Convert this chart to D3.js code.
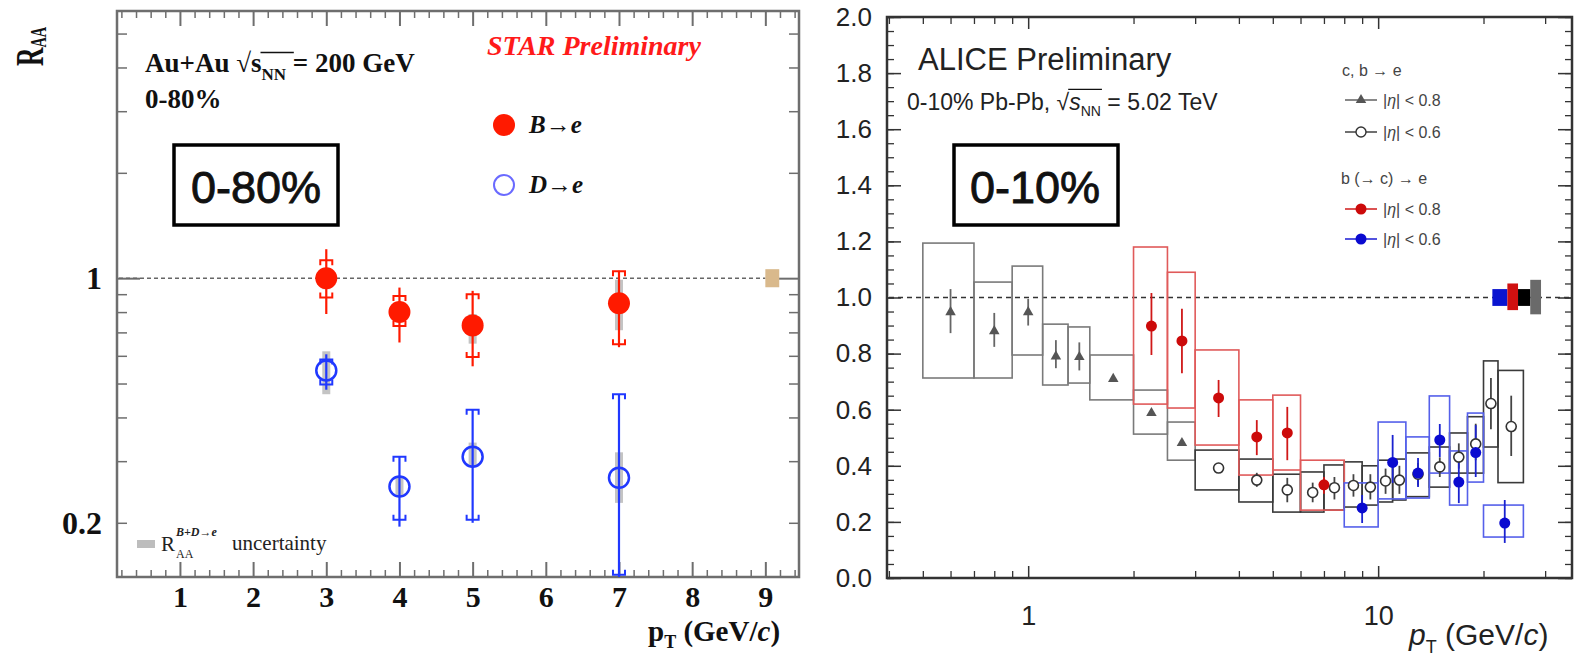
<!DOCTYPE html>
<html lang="en">
<head>
<meta charset="UTF-8">
<title>Heavy-flavour electron RAA: STAR vs ALICE</title>
<script src="https://d3js.org/d3.v7.min.js"></script>
<style>
  body { margin: 0; background: #fff; }
  svg { display: block; }
  .star text { font-family: "Liberation Serif", "Times New Roman", serif; }
  .alice text { font-family: "Liberation Sans", Arial, Helvetica, sans-serif; }
</style>
</head>
<body>
<svg id="chart" width="1576" height="659"></svg>
<script>
// ---------- STAR panel data (Au+Au 200 GeV, 0-80%) ----------
const starMajorX = [1, 2, 3, 4, 5, 6, 7, 8, 9];
const starMinorY = [0.2, 0.3, 0.4, 0.5, 0.6, 0.7, 0.8, 0.9, 2, 3, 4, 5];
// B -> e : value, stat error range, syst bracket range, grey combined band
const starB = [
  {pt: 3, v: 1.00,  stat: [0.79, 1.21],  sys: [0.88, 1.125], band: [0.93, 1.07]},
  {pt: 4, v: 0.80,  stat: [0.655, 0.94], sys: [0.73, 0.89],  band: [0.76, 0.85]},
  {pt: 5, v: 0.733, stat: [0.56, 0.92],  sys: [0.595, 0.90], band: [0.65, 0.79]},
  {pt: 7, v: 0.848, stat: [0.635, 1.05], sys: [0.647, 1.047], band: [0.71, 0.99]}
];
// D -> e
const starD = [
  {pt: 3, v: 0.545, stat: [0.48, 0.606], sys: [0.497, 0.586], band: [0.466, 0.618]},
  {pt: 4, v: 0.254, stat: [0.195, 0.31], sys: [0.204, 0.309], band: [0.24, 0.27]},
  {pt: 5, v: 0.309, stat: [0.20, 0.421], sys: [0.204, 0.421], band: [0.29, 0.339]},
  {pt: 7, v: 0.269, stat: [0.14, 0.466], sys: [0.142, 0.466], band: [0.228, 0.318]}
];
const starNorm = {x0: 9.0, x1: 9.19, lo: 0.942, hi: 1.061};

// ---------- ALICE panel data (Pb-Pb 5.02 TeV, 0-10%) ----------
const aliceMajorX = [1, 10];
const aliceMinorX = [0.4, 0.5, 0.6, 0.7, 0.8, 0.9, 2, 3, 4, 5, 6, 7, 8, 9, 20, 30];
const aliceMajorY = [0, 0.2, 0.4, 0.6, 0.8, 1.0, 1.2, 1.4, 1.6, 1.8, 2.0];
const aliceMinorY = d3.range(0, 2.0001, 0.05);
// c,b -> e |eta|<0.8 (triangles)
const aliceTri = [
  {pt: 0.6,  x0: 0.5, x1: 0.7, v: 0.948, err: [0.873, 1.03],  box: [0.713, 1.194]},
  {pt: 0.8,  x0: 0.7, x1: 0.9, v: 0.88,  err: [0.824, 0.945], box: [0.713, 1.055]},
  {pt: 1.0,  x0: 0.9, x1: 1.1, v: 0.948, err: [0.90, 0.995],  box: [0.795, 1.112]},
  {pt: 1.2,  x0: 1.1, x1: 1.3, v: 0.79,  err: [0.748, 0.848], box: [0.688, 0.905]},
  {pt: 1.4,  x0: 1.3, x1: 1.5, v: 0.788, err: [0.74, 0.84],   box: [0.695, 0.895]},
  {pt: 1.75, x0: 1.5, x1: 2.0, v: 0.71,  err: [0.70, 0.72],   box: [0.635, 0.795]},
  {pt: 2.25, x0: 2.0, x1: 2.5, v: 0.588, err: [0.58, 0.596],  box: [0.513, 0.67]},
  {pt: 2.75, x0: 2.5, x1: 3.0, v: 0.481, err: [0.473, 0.489], box: [0.42, 0.556]}
];
// c,b -> e |eta|<0.6 (open circles)
const aliceCirc = [
  {pt: 3.5,  x0: 3,  x1: 4,  v: 0.392, err: [0.375, 0.41],  box: [0.314, 0.456]},
  {pt: 4.5,  x0: 4,  x1: 5,  v: 0.349, err: [0.325, 0.375], box: [0.271, 0.424]},
  {pt: 5.5,  x0: 5,  x1: 6,  v: 0.314, err: [0.27, 0.357],  box: [0.235, 0.37]},
  {pt: 6.5,  x0: 6,  x1: 7,  v: 0.305, err: [0.27, 0.34],   box: [0.235, 0.378]},
  {pt: 7.5,  x0: 7,  x1: 8,  v: 0.322, err: [0.28, 0.36],   box: [0.242, 0.403]},
  {pt: 8.5,  x0: 8,  x1: 9,  v: 0.33,  err: [0.29, 0.37],   box: [0.253, 0.414]},
  {pt: 9.5,  x0: 9,  x1: 10, v: 0.324, err: [0.28, 0.37],   box: [0.26, 0.40]},
  {pt: 10.5, x0: 10, x1: 11, v: 0.346, err: [0.30, 0.39],   box: [0.271, 0.42]},
  {pt: 11.5, x0: 11, x1: 12, v: 0.349, err: [0.30, 0.40],   box: [0.278, 0.424]},
  {pt: 13,   x0: 12, x1: 14, v: 0.37,  err: [0.33, 0.41],   box: [0.29, 0.446]},
  {pt: 15,   x0: 14, x1: 16, v: 0.396, err: [0.36, 0.43],   box: [0.324, 0.467]},
  {pt: 17,   x0: 16, x1: 18, v: 0.431, err: [0.39, 0.48],   box: [0.374, 0.517]},
  {pt: 19,   x0: 18, x1: 20, v: 0.478, err: [0.42, 0.55],   box: [0.374, 0.575]},
  {pt: 21,   x0: 20, x1: 22, v: 0.622, err: [0.53, 0.713],  box: [0.467, 0.774]},
  {pt: 24,   x0: 22, x1: 26, v: 0.54,  err: [0.435, 0.65],  box: [0.34, 0.74]}
];
// b (-> c) -> e |eta|<0.8 (red)
const aliceRed = [
  {pt: 2.25, x0: 2.0, x1: 2.5, v: 0.898, err: [0.795, 1.016], box: [0.62, 1.18]},
  {pt: 2.75, x0: 2.5, x1: 3.0, v: 0.845, err: [0.73, 0.96],   box: [0.606, 1.09]},
  {pt: 3.5,  x0: 3,   x1: 4,   v: 0.642, err: [0.574, 0.706], box: [0.474, 0.813]},
  {pt: 4.5,  x0: 4,   x1: 5,   v: 0.503, err: [0.438, 0.563], box: [0.367, 0.635]},
  {pt: 5.5,  x0: 5,   x1: 6,   v: 0.517, err: [0.42, 0.61],   box: [0.385, 0.652]},
  {pt: 7,    x0: 6,   x1: 8,   v: 0.332, err: [0.30, 0.36],   box: [0.242, 0.42]}
];
// b (-> c) -> e |eta|<0.6 (blue)
const aliceBlue = [
  {pt: 9,  x0: 8,  x1: 10, v: 0.25,  err: [0.196, 0.296], box: [0.182, 0.339]},
  {pt: 11, x0: 10, x1: 12, v: 0.412, err: [0.339, 0.51],  box: [0.282, 0.556]},
  {pt: 13, x0: 12, x1: 14, v: 0.374, err: [0.324, 0.428], box: [0.285, 0.503]},
  {pt: 15, x0: 14, x1: 16, v: 0.492, err: [0.431, 0.549], box: [0.374, 0.649]},
  {pt: 17, x0: 16, x1: 18, v: 0.342, err: [0.267, 0.431], box: [0.26, 0.453]},
  {pt: 19, x0: 18, x1: 20, v: 0.447, err: [0.36, 0.545],  box: [0.342, 0.588]},
  {pt: 23, x0: 20, x1: 26, v: 0.196, err: [0.125, 0.278], box: [0.146, 0.26]}
];
// normalisation uncertainty boxes at unity
const aliceNorm = [
  {x0: 21.2, x1: 23.4, lo: 0.97,  hi: 1.03,  color: "#0a14d0"},
  {x0: 23.4, x1: 25.1, lo: 0.955, hi: 1.05,  color: "#d01010"},
  {x0: 25.1, x1: 27.2, lo: 0.97,  hi: 1.03,  color: "#000000"},
  {x0: 27.2, x1: 29.2, lo: 0.94,  hi: 1.063, color: "#6a6a6a"}
];

const svg = d3.select("#chart");

// helper: text with sqrt(s_NN) and an overline drawn over s_NN
function rootSnn(g, x, y, before, after, size, italicS, barRise) {
  const t = g.append("text").attr("x", x).attr("y", y).style("font-size", size + "px");
  t.append("tspan").text(before + "\u221A");
  t.append("tspan").text("s").style("font-style", italicS ? "italic" : null);
  t.append("tspan").text("NN").style("font-size", Math.round(size * 0.62) + "px").attr("dy", size * 0.28);
  t.append("tspan").text(after).attr("dy", -size * 0.28);
  const n = t.node();
  const i = before.length;
  const rad = n.getExtentOfChar(i);
  const last = n.getExtentOfChar(i + 3);
  g.append("line")
    .attr("x1", rad.x + rad.width - 1).attr("x2", last.x + last.width + 1)
    .attr("y1", y - size * barRise).attr("y2", y - size * barRise)
    .attr("stroke", "#111").attr("stroke-width", Math.max(1.2, size / 18));
  return t;
}

function styleTicks(g, color, width) {
  g.select(".domain").remove();
  g.selectAll(".tick line").attr("stroke", color).attr("stroke-width", width);
}

// ==================== STAR panel ====================
function drawStar() {
  const g = svg.append("g").attr("class", "star");
  const x = d3.scaleLinear().domain([0.14, 9.46]).range([117, 799]);
  const y = d3.scaleLog().domain([0.14, 5.8]).range([577, 11]);
  const axisColor = "#6e6e6e";
  const minorX = d3.range(0.2, 9.41, 0.2).filter(d => Math.abs(d - Math.round(d)) > 0.01);

  // x axes (bottom with labels, top mirrored)
  const bx = g.append("g").attr("transform", "translate(0,577)")
    .call(d3.axisBottom(x).tickValues(starMajorX).tickSize(-15).tickPadding(9).tickFormat(d3.format("d")));
  styleTicks(bx, axisColor, 2);
  bx.selectAll("text").style("font-size", "30px").style("font-weight", "bold").attr("fill", "#111");
  styleTicks(g.append("g").attr("transform", "translate(0,577)")
    .call(d3.axisBottom(x).tickValues(minorX).tickSize(-7).tickFormat("")), axisColor, 1.5);
  styleTicks(g.append("g").attr("transform", "translate(0,11)")
    .call(d3.axisTop(x).tickValues(starMajorX).tickSize(-15).tickFormat("")), axisColor, 2);
  styleTicks(g.append("g").attr("transform", "translate(0,11)")
    .call(d3.axisTop(x).tickValues(minorX).tickSize(-7).tickFormat("")), axisColor, 1.5);

  // y axes (log)
  const ly = g.append("g").attr("transform", "translate(117,0)")
    .call(d3.axisLeft(y).tickValues([1]).tickSize(-23).tickPadding(15).tickFormat(d3.format("d")));
  styleTicks(ly, axisColor, 2);
  const lyMinor = g.append("g").attr("transform", "translate(117,0)")
    .call(d3.axisLeft(y).tickValues(starMinorY).tickSize(-10).tickPadding(15)
      .tickFormat(d => d === 0.2 ? "0.2" : ""));
  styleTicks(lyMinor, axisColor, 1.5);
  ly.selectAll("text").style("font-size", "32px").style("font-weight", "bold").attr("fill", "#111");
  lyMinor.selectAll("text").style("font-size", "32px").style("font-weight", "bold").attr("fill", "#111");
  styleTicks(g.append("g").attr("transform", "translate(799,0)")
    .call(d3.axisRight(y).tickValues([1]).tickSize(-23).tickFormat("")), axisColor, 2);
  styleTicks(g.append("g").attr("transform", "translate(799,0)")
    .call(d3.axisRight(y).tickValues(starMinorY).tickSize(-10).tickFormat("")), axisColor, 1.5);

  // frame
  g.append("rect").attr("x", 117).attr("y", 11).attr("width", 682).attr("height", 566)
    .attr("fill", "none").attr("stroke", axisColor).attr("stroke-width", 2.5);

  // unity line
  g.append("line").attr("x1", 119).attr("x2", x(starNorm.x0)).attr("y1", y(1)).attr("y2", y(1))
    .attr("stroke", "#666").attr("stroke-width", 1.5).attr("stroke-dasharray", "4,3");
  g.append("rect").attr("x", x(starNorm.x0)).attr("width", x(starNorm.x1) - x(starNorm.x0))
    .attr("y", y(starNorm.hi)).attr("height", y(starNorm.lo) - y(starNorm.hi)).attr("fill", "#d9b98c");

  // grey combined uncertainty bands
  g.selectAll(".band").data(starB.concat(starD)).join("rect")
    .attr("x", d => x(d.pt) - 4).attr("width", 8)
    .attr("y", d => y(d.band[1])).attr("height", d => y(d.band[0]) - y(d.band[1]))
    .attr("fill", "#c4c4c4");

  function series(data, color, filled) {
    const s = g.append("g");
    s.selectAll(".stat").data(data).join("line")
      .attr("x1", d => x(d.pt)).attr("x2", d => x(d.pt))
      .attr("y1", d => y(d.stat[0])).attr("y2", d => y(d.stat[1]))
      .attr("stroke", color).attr("stroke-width", 2.2);
    const caps = [];
    data.forEach(d => { caps.push({pt: d.pt, v: d.sys[1], dir: 1}); caps.push({pt: d.pt, v: d.sys[0], dir: -1}); });
    s.selectAll(".cap").data(caps).join("path")
      .attr("d", d => {
        const cx = x(d.pt), cy = y(d.v);
        return `M${cx - 6},${cy + 5 * d.dir}L${cx - 6},${cy}L${cx + 6},${cy}L${cx + 6},${cy + 5 * d.dir}`;
      })
      .attr("fill", "none").attr("stroke", color).attr("stroke-width", 2);
    s.selectAll(".pt").data(data).join("circle")
      .attr("cx", d => x(d.pt)).attr("cy", d => y(d.v)).attr("r", filled ? 11 : 10)
      .attr("fill", filled ? color : "none").attr("stroke", color).attr("stroke-width", filled ? 0 : 2.5);
  }
  series(starD, "#2038ff", false);
  series(starB, "#ff1a00", true);

  // labels
  g.append("text").attr("transform", "translate(43,66) rotate(-90) scale(0.85,1.35)")
    .style("font-size", "30px").style("font-weight", "bold").attr("fill", "#111")
    .call(t => {
      t.append("tspan").text("R");
      t.append("tspan").text("AA").style("font-size", "17px").attr("dy", 2);
    });
  const info = g.append("g").style("font-weight", "bold").attr("fill", "#111");
  rootSnn(info, 145, 72, "Au+Au  ", " = 200 GeV", 27, false, 0.72);
  info.append("text").attr("x", 145).attr("y", 108).style("font-size", "27px").text("0-80%");
  g.append("text").attr("x", 487).attr("y", 55).style("font-size", "28px")
    .style("font-weight", "bold").style("font-style", "italic").attr("fill", "#ff1a1a").text("STAR Preliminary");

  // legend
  g.append("circle").attr("cx", 504).attr("cy", 125).attr("r", 11).attr("fill", "#ff1a00");
  g.append("circle").attr("cx", 504).attr("cy", 185).attr("r", 10).attr("fill", "none")
    .attr("stroke", "#6a6aff").attr("stroke-width", 2);
  g.append("text").attr("x", 529).attr("y", 133).style("font-size", "25px").style("font-weight", "bold")
    .style("font-style", "italic").attr("fill", "#111").text("B\u2192e");
  g.append("text").attr("x", 529).attr("y", 193).style("font-size", "25px").style("font-weight", "bold")
    .style("font-style", "italic").attr("fill", "#111").text("D\u2192e");

  // uncertainty legend
  g.append("rect").attr("x", 137).attr("y", 540).attr("width", 18).attr("height", 8).attr("fill", "#bdbdbd");
  g.append("text").attr("x", 161).attr("y", 551).style("font-size", "21px").attr("fill", "#222").text("R");
  g.append("text").attr("x", 176).attr("y", 558).style("font-size", "12px").attr("fill", "#222").text("AA");
  g.append("text").attr("x", 176).attr("y", 536).style("font-size", "12px").style("font-style", "italic")
    .style("font-weight", "bold").attr("fill", "#222").text("B+D\u2192e");
  g.append("text").attr("x", 232).attr("y", 550).style("font-size", "21px").attr("fill", "#222").text("uncertainty");

  // axis title
  const xt = g.append("text").attr("x", 648).attr("y", 641).style("font-size", "29px")
    .style("font-weight", "bold").attr("fill", "#111");
  xt.append("tspan").text("p");
  xt.append("tspan").text("T").style("font-size", "18px").attr("dy", 7);
  xt.append("tspan").text(" (GeV/").attr("dy", -7);
  xt.append("tspan").text("c").style("font-style", "italic");
  xt.append("tspan").text(")");

  // centrality box
  g.append("rect").attr("x", 174).attr("y", 145).attr("width", 164).attr("height", 80)
    .attr("fill", "#fff").attr("stroke", "#000").attr("stroke-width", 3.5);
  g.append("text").attr("x", 256).attr("y", 203).attr("text-anchor", "middle")
    .style("font-family", "'Liberation Sans', Arial, sans-serif").style("font-size", "45px")
    .attr("fill", "#111").attr("stroke", "#111").attr("stroke-width", 0.9).text("0-80%");
}

// ==================== ALICE panel ====================
function drawAlice() {
  const g = svg.append("g").attr("class", "alice");
  const x = d3.scaleLog().domain([0.395, 35.8]).range([887, 1572]);
  const y = d3.scaleLinear().domain([0, 2]).range([578, 17]);
  const ax = "#333";

  const bx = g.append("g").attr("transform", "translate(0,578)")
    .call(d3.axisBottom(x).tickValues(aliceMajorX).tickSize(-12).tickPadding(28).tickFormat(d3.format("d")));
  styleTicks(bx, ax, 1.5);
  bx.selectAll("text").style("font-size", "27px").attr("fill", "#222");
  styleTicks(g.append("g").attr("transform", "translate(0,578)")
    .call(d3.axisBottom(x).tickValues(aliceMinorX).tickSize(-7).tickFormat("")), ax, 1.3);
  styleTicks(g.append("g").attr("transform", "translate(0,17)")
    .call(d3.axisTop(x).tickValues(aliceMajorX).tickSize(-12).tickFormat("")), ax, 1.5);
  styleTicks(g.append("g").attr("transform", "translate(0,17)")
    .call(d3.axisTop(x).tickValues(aliceMinorX).tickSize(-7).tickFormat("")), ax, 1.3);

  const ly = g.append("g").attr("transform", "translate(887,0)")
    .call(d3.axisLeft(y).tickValues(aliceMajorY).tickSize(-14).tickPadding(15).tickFormat(d3.format(".1f")));
  styleTicks(ly, ax, 1.5);
  ly.selectAll("text").style("font-size", "26px").attr("fill", "#222");
  styleTicks(g.append("g").attr("transform", "translate(887,0)")
    .call(d3.axisLeft(y).tickValues(aliceMinorY).tickSize(-7).tickFormat("")), ax, 1.3);
  styleTicks(g.append("g").attr("transform", "translate(1572,0)")
    .call(d3.axisRight(y).tickValues(aliceMajorY).tickSize(-14).tickFormat("")), ax, 1.5);
  styleTicks(g.append("g").attr("transform", "translate(1572,0)")
    .call(d3.axisRight(y).tickValues(aliceMinorY).tickSize(-7).tickFormat("")), ax, 1.3);

  g.append("rect").attr("x", 887).attr("y", 17).attr("width", 685).attr("height", 561)
    .attr("fill", "none").attr("stroke", ax).attr("stroke-width", 2.5);

  // unity
  g.append("line").attr("x1", 889).attr("x2", 1570).attr("y1", y(1)).attr("y2", y(1))
    .attr("stroke", "#333").attr("stroke-width", 1.3).attr("stroke-dasharray", "5,4");
  g.selectAll(".norm").data(aliceNorm).join("rect")
    .attr("x", d => x(d.x0)).attr("width", d => x(d.x1) - x(d.x0))
    .attr("y", d => y(d.hi)).attr("height", d => y(d.lo) - y(d.hi)).attr("fill", d => d.color);

  function boxes(data, color) {
    g.append("g").selectAll("rect").data(data).join("rect")
      .attr("x", d => x(d.x0)).attr("width", d => x(d.x1) - x(d.x0))
      .attr("y", d => y(d.box[1])).attr("height", d => y(d.box[0]) - y(d.box[1]))
      .attr("fill", "none").attr("stroke", color).attr("stroke-width", 1.6);
  }
  function errors(data, color) {
    g.append("g").selectAll("line").data(data).join("line")
      .attr("x1", d => x(d.pt)).attr("x2", d => x(d.pt))
      .attr("y1", d => y(d.err[0])).attr("y2", d => y(d.err[1]))
      .attr("stroke", color).attr("stroke-width", 1.8);
  }
  boxes(aliceTri, "#7a7a7a");
  boxes(aliceCirc, "#3a3a3a");
  boxes(aliceRed, "#e05a5a");
  boxes(aliceBlue, "#5560ea");
  errors(aliceTri, "#666");
  errors(aliceCirc, "#444");
  errors(aliceRed, "#d01818");
  errors(aliceBlue, "#1a22d0");

  const tri = d3.symbol(d3.symbolTriangle).size(48);
  g.append("g").selectAll("path").data(aliceTri).join("path")
    .attr("transform", d => `translate(${x(d.pt)},${y(d.v)})`).attr("d", tri).attr("fill", "#555");
  g.append("g").selectAll("circle").data(aliceCirc).join("circle")
    .attr("cx", d => x(d.pt)).attr("cy", d => y(d.v)).attr("r", 5)
    .attr("fill", "#fff").attr("stroke", "#333").attr("stroke-width", 1.6);
  g.append("g").selectAll("circle").data(aliceRed).join("circle")
    .attr("cx", d => x(d.pt)).attr("cy", d => y(d.v)).attr("r", 5.5).attr("fill", "#cc0a0a");
  g.append("g").selectAll("circle").data(aliceBlue).join("circle")
    .attr("cx", d => x(d.pt)).attr("cy", d => y(d.v)).attr("r", 5.5).attr("fill", "#0a0ad0");

  // texts
  g.append("text").attr("x", 918).attr("y", 70).style("font-size", "31px").attr("fill", "#222")
    .text("ALICE Preliminary");
  rootSnn(g, 907, 110, "0-10% Pb-Pb, ", " = 5.02 TeV", 23, true, 0.9).attr("fill", "#222");

  const leg = g.append("g").attr("fill", "#444").style("font-size", "16px");
  leg.append("text").attr("x", 1342).attr("y", 76).text("c, b \u2192 e");
  leg.append("text").attr("x", 1341).attr("y", 184).text("b (\u2192 c) \u2192 e");
  const rows = [
    {y: 100, kind: "tri", color: "#555", text: "0.8"},
    {y: 132, kind: "open", color: "#333", text: "0.6"},
    {y: 209, kind: "dot", color: "#cc0a0a", text: "0.8"},
    {y: 239, kind: "dot", color: "#0a0ad0", text: "0.6"}
  ];
  rows.forEach(r => {
    leg.append("line").attr("x1", 1345).attr("x2", 1377).attr("y1", r.y).attr("y2", r.y)
      .attr("stroke", r.color).attr("stroke-width", 1.4);
    if (r.kind === "tri") leg.append("path").attr("transform", `translate(1361,${r.y})`).attr("d", tri).attr("fill", r.color);
    else if (r.kind === "open") leg.append("circle").attr("cx", 1361).attr("cy", r.y).attr("r", 5)
      .attr("fill", "#fff").attr("stroke", r.color).attr("stroke-width", 1.4);
    else leg.append("circle").attr("cx", 1361).attr("cy", r.y).attr("r", 5.5).attr("fill", r.color);
    const t = leg.append("text").attr("x", 1383).attr("y", r.y + 6);
    t.append("tspan").text("|");
    t.append("tspan").text("\u03B7").style("font-style", "italic");
    t.append("tspan").text("| < " + r.text);
  });

  // x title
  const xt = g.append("text").attr("x", 1409).attr("y", 645).style("font-size", "30px").attr("fill", "#222");
  xt.append("tspan").text("p").style("font-style", "italic");
  xt.append("tspan").text("T").style("font-size", "18px").attr("dy", 8);
  xt.append("tspan").text(" (GeV/").attr("dy", -8);
  xt.append("tspan").text("c").style("font-style", "italic");
  xt.append("tspan").text(")");

  // centrality box
  g.append("rect").attr("x", 954).attr("y", 145).attr("width", 164).attr("height", 80)
    .attr("fill", "#fff").attr("stroke", "#000").attr("stroke-width", 3.5);
  g.append("text").attr("x", 1035).attr("y", 203).attr("text-anchor", "middle")
    .style("font-size", "45px").attr("fill", "#111").attr("stroke", "#111").attr("stroke-width", 0.9)
    .text("0-10%");
}

drawStar();
drawAlice();
</script>
</body>
</html>
